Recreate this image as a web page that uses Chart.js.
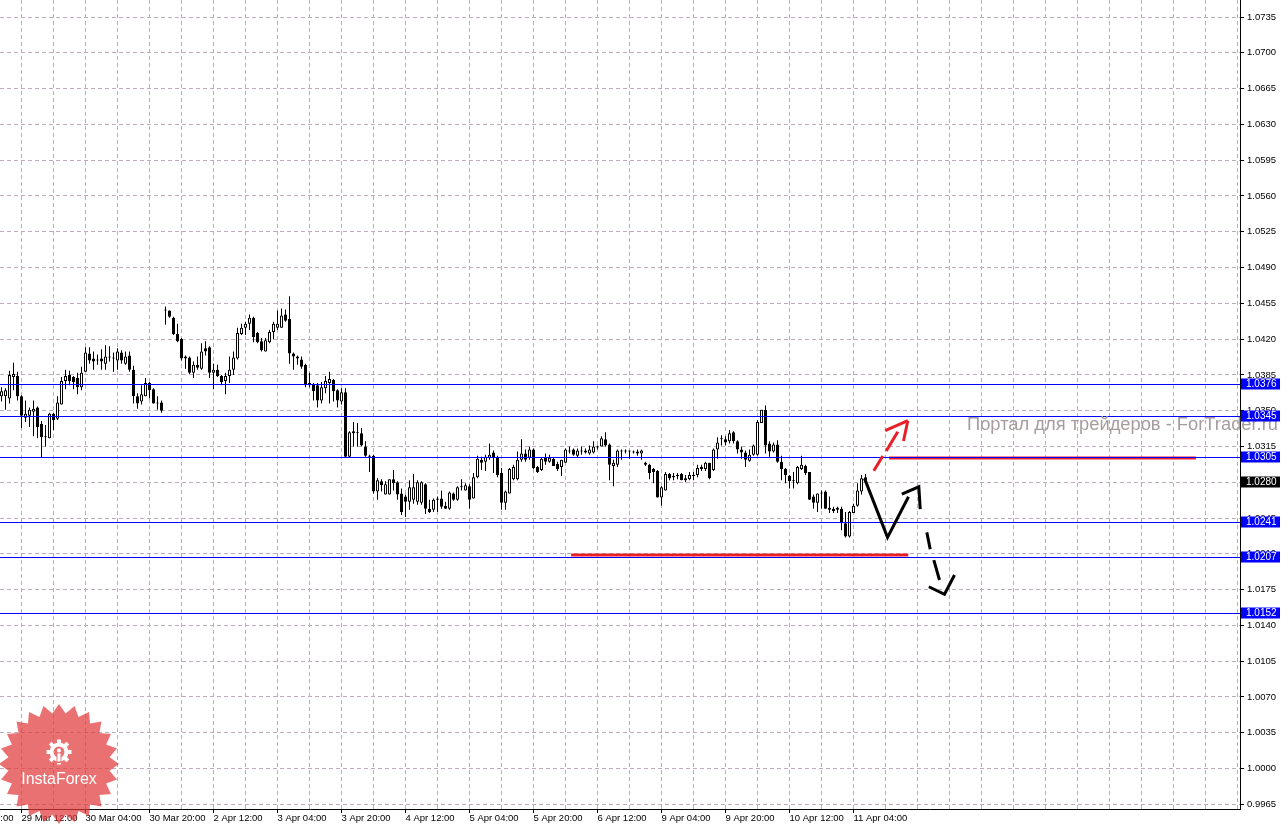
<!DOCTYPE html>
<html><head><meta charset="utf-8">
<script src="https://cdn.jsdelivr.net/npm/chart.js@4.4.1/dist/chart.umd.min.js"></script>
<style>html,body{margin:0;padding:0;background:#fff;overflow:hidden}</style>
</head><body>
<canvas id="c" width="1284" height="826" style="display:block;width:1284px;height:826px"></canvas>
<script>
// ---- Candle data (H1), index 0 = first visible bar ----
const opens=[1.0364,1.0364,1.0362,1.0383,1.0384,1.0364,1.0343,1.0345,1.0349,1.0353,
1.0337,1.0325,1.0323,1.0347,1.0342,1.0356,1.0379,1.0385,1.0383,1.0382,
1.0373,1.0388,1.0406,1.0401,1.0399,1.0401,1.0396,1.0402,1.0402,1.0399,
1.0407,1.0396,1.0404,1.0390,1.0364,1.0359,1.0364,1.0377,1.0371,1.0358,
1.0358,1.0449,1.0448,1.0441,1.0425,1.0420,1.0403,1.0402,1.0387,1.0395,
1.0391,1.0411,1.0412,1.0387,1.0390,1.0384,1.0379,1.0384,1.0390,1.0401,
1.0425,1.0431,1.0435,1.0441,1.0426,1.0418,1.0408,1.0417,1.0427,1.0431,
1.0431,1.0444,1.0440,1.0406,1.0403,1.0400,1.0395,1.0377,1.0376,1.0375,
1.0360,1.0372,1.0377,1.0380,1.0370,1.0359,1.0368,1.0305,1.0328,1.0328,
1.0328,1.0315,1.0305,1.0306,1.0271,1.0281,1.0268,1.0268,1.0283,1.0280,
1.0269,1.0266,1.0261,1.0263,1.0261,1.0260,1.0278,1.0254,1.0253,1.0263,
1.0264,1.0257,1.0254,1.0269,1.0263,1.0275,1.0272,1.0276,1.0264,1.0285,
1.0302,1.0300,1.0304,1.0309,1.0305,1.0289,1.0260,1.0269,1.0283,1.0283,
1.0302,1.0308,1.0304,1.0312,1.0295,1.0292,1.0304,1.0300,1.0303,1.0298,
1.0295,1.0299,1.0310,1.0312,1.0306,1.0311,1.0311,1.0308,1.0309,1.0315,
1.0315,1.0322,1.0317,1.0296,1.0297,1.0311,1.0310,1.0310,1.0309,1.0308,
1.0308,1.0299,1.0297,1.0293,1.0291,1.0265,1.0272,1.0288,1.0286,1.0286,
1.0288,1.0282,1.0283,1.0286,1.0287,1.0293,1.0293,1.0299,1.0292,1.0312,
1.0322,1.0322,1.0320,1.0329,1.0320,1.0312,1.0309,1.0301,1.0307,1.0307,
1.0338,1.0351,1.0318,1.0310,1.0317,1.0300,1.0293,1.0286,1.0282,1.0279,
1.0293,1.0296,1.0290,1.0266,1.0260,1.0269,1.0271,1.0255,1.0254,1.0253,
1.0254,1.0240,1.0227,1.0250,1.0257,1.0271,1.0285];
const highs=[1.0373,1.0372,1.0389,1.0397,1.0388,1.0365,1.0360,1.0353,1.0360,1.0354,
1.0340,1.0336,1.0348,1.0348,1.0364,1.0383,1.0390,1.0389,1.0384,1.0387,
1.0393,1.0412,1.0412,1.0408,1.0405,1.0410,1.0414,1.0413,1.0407,1.0411,
1.0409,1.0408,1.0408,1.0394,1.0367,1.0375,1.0382,1.0378,1.0372,1.0364,
1.0360,1.0452,1.0448,1.0442,1.0435,1.0421,1.0404,1.0403,1.0398,1.0403,
1.0416,1.0418,1.0413,1.0396,1.0395,1.0385,1.0387,1.0403,1.0408,1.0431,
1.0435,1.0437,1.0444,1.0442,1.0427,1.0421,1.0421,1.0429,1.0437,1.0448,
1.0450,1.0449,1.0462,1.0407,1.0404,1.0403,1.0396,1.0387,1.0377,1.0377,
1.0378,1.0384,1.0388,1.0381,1.0371,1.0372,1.0372,1.0330,1.0339,1.0338,
1.0333,1.0320,1.0307,1.0307,1.0284,1.0283,1.0281,1.0283,1.0292,1.0281,
1.0274,1.0268,1.0282,1.0288,1.0282,1.0281,1.0279,1.0263,1.0264,1.0266,
1.0272,1.0261,1.0271,1.0270,1.0276,1.0283,1.0279,1.0278,1.0289,1.0306,
1.0305,1.0307,1.0318,1.0311,1.0306,1.0294,1.0272,1.0294,1.0297,1.0310,
1.0322,1.0312,1.0315,1.0313,1.0296,1.0304,1.0308,1.0307,1.0304,1.0300,
1.0302,1.0313,1.0315,1.0313,1.0313,1.0315,1.0313,1.0316,1.0320,1.0316,
1.0325,1.0329,1.0318,1.0302,1.0312,1.0312,1.0312,1.0311,1.0311,1.0312,
1.0312,1.0300,1.0298,1.0294,1.0292,1.0276,1.0290,1.0289,1.0289,1.0289,
1.0289,1.0287,1.0290,1.0290,1.0297,1.0297,1.0300,1.0299,1.0313,1.0324,
1.0326,1.0325,1.0331,1.0330,1.0321,1.0315,1.0311,1.0312,1.0317,1.0341,
1.0351,1.0355,1.0320,1.0319,1.0321,1.0306,1.0294,1.0287,1.0290,1.0296,
1.0306,1.0297,1.0290,1.0268,1.0269,1.0272,1.0272,1.0266,1.0256,1.0256,
1.0256,1.0251,1.0252,1.0259,1.0279,1.0287,1.0288];
const lows=[1.0359,1.0351,1.0357,1.0370,1.0360,1.0333,1.0339,1.0334,1.0325,1.0323,
1.0304,1.0315,1.0323,1.0331,1.0341,1.0356,1.0371,1.0375,1.0371,1.0366,
1.0370,1.0388,1.0396,1.0390,1.0395,1.0390,1.0390,1.0398,1.0388,1.0390,
1.0396,1.0395,1.0388,1.0357,1.0352,1.0356,1.0364,1.0362,1.0357,1.0351,
1.0348,1.0434,1.0441,1.0424,1.0417,1.0399,1.0391,1.0386,1.0382,1.0390,
1.0390,1.0404,1.0382,1.0371,1.0383,1.0375,1.0366,1.0377,1.0385,1.0400,
1.0424,1.0424,1.0429,1.0417,1.0416,1.0408,1.0408,1.0416,1.0420,1.0429,
1.0431,1.0437,1.0396,1.0390,1.0395,1.0391,1.0373,1.0373,1.0360,1.0353,
1.0357,1.0367,1.0357,1.0359,1.0353,1.0356,1.0304,1.0304,1.0315,1.0315,
1.0315,1.0305,1.0290,1.0269,1.0263,1.0271,1.0268,1.0268,1.0272,1.0263,
1.0248,1.0246,1.0253,1.0259,1.0258,1.0258,1.0249,1.0250,1.0251,1.0251,
1.0254,1.0254,1.0253,1.0262,1.0262,1.0272,1.0272,1.0254,1.0264,1.0284,
1.0292,1.0291,1.0302,1.0289,1.0285,1.0253,1.0253,1.0269,1.0282,1.0282,
1.0300,1.0300,1.0302,1.0293,1.0289,1.0291,1.0297,1.0299,1.0296,1.0291,
1.0286,1.0299,1.0308,1.0306,1.0304,1.0307,1.0308,1.0307,1.0308,1.0312,
1.0315,1.0315,1.0282,1.0276,1.0295,1.0302,1.0308,1.0303,1.0308,1.0306,
1.0302,1.0296,1.0283,1.0279,1.0265,1.0257,1.0272,1.0282,1.0282,1.0283,
1.0282,1.0280,1.0282,1.0282,1.0285,1.0291,1.0291,1.0283,1.0291,1.0303,
1.0316,1.0316,1.0318,1.0318,1.0308,1.0303,1.0295,1.0300,1.0306,1.0306,
1.0338,1.0308,1.0305,1.0309,1.0299,1.0282,1.0279,1.0274,1.0274,1.0278,
1.0292,1.0287,1.0263,1.0254,1.0251,1.0254,1.0254,1.0250,1.0250,1.0250,
1.0233,1.0226,1.0226,1.0250,1.0256,1.0268,1.0281];
const closes=[1.0369,1.0370,1.0385,1.0386,1.0364,1.0345,1.0347,1.0351,1.0352,1.0334,
1.0324,1.0324,1.0347,1.0341,1.0358,1.0379,1.0384,1.0379,1.0378,1.0373,
1.0387,1.0407,1.0399,1.0398,1.0400,1.0398,1.0403,1.0402,1.0401,1.0408,
1.0399,1.0403,1.0390,1.0364,1.0357,1.0366,1.0377,1.0370,1.0357,1.0357,
1.0350,1.0448,1.0442,1.0425,1.0418,1.0401,1.0401,1.0387,1.0395,1.0392,
1.0408,1.0408,1.0387,1.0390,1.0384,1.0378,1.0384,1.0390,1.0402,1.0426,
1.0431,1.0435,1.0441,1.0422,1.0417,1.0409,1.0419,1.0427,1.0435,1.0435,
1.0443,1.0438,1.0406,1.0403,1.0401,1.0393,1.0375,1.0375,1.0369,1.0360,
1.0373,1.0379,1.0381,1.0369,1.0360,1.0368,1.0305,1.0329,1.0330,1.0328,
1.0316,1.0306,1.0305,1.0271,1.0282,1.0277,1.0278,1.0283,1.0279,1.0268,
1.0251,1.0261,1.0275,1.0275,1.0280,1.0280,1.0254,1.0251,1.0263,1.0264,
1.0256,1.0254,1.0270,1.0263,1.0275,1.0276,1.0277,1.0263,1.0285,1.0303,
1.0299,1.0305,1.0307,1.0304,1.0287,1.0260,1.0271,1.0293,1.0295,1.0302,
1.0308,1.0302,1.0312,1.0294,1.0290,1.0303,1.0300,1.0304,1.0296,1.0293,
1.0302,1.0312,1.0311,1.0307,1.0311,1.0310,1.0309,1.0312,1.0315,1.0314,
1.0323,1.0316,1.0297,1.0299,1.0311,1.0310,1.0311,1.0310,1.0309,1.0310,
1.0311,1.0297,1.0289,1.0290,1.0265,1.0275,1.0288,1.0284,1.0285,1.0286,
1.0282,1.0284,1.0287,1.0286,1.0294,1.0295,1.0299,1.0284,1.0312,1.0319,
1.0322,1.0319,1.0328,1.0320,1.0312,1.0309,1.0302,1.0307,1.0316,1.0339,
1.0351,1.0316,1.0310,1.0317,1.0300,1.0293,1.0287,1.0281,1.0281,1.0295,
1.0297,1.0289,1.0263,1.0260,1.0269,1.0270,1.0254,1.0253,1.0252,1.0255,
1.0240,1.0227,1.0251,1.0257,1.0272,1.0284,1.0282];

// ---- Axis labels ----
const timeLabels=['28 Mar 20:00','29 Mar 12:00','30 Mar 04:00','30 Mar 20:00','2 Apr 12:00','3 Apr 04:00','3 Apr 20:00','4 Apr 12:00','5 Apr 04:00','5 Apr 20:00','6 Apr 12:00','9 Apr 04:00','9 Apr 20:00','10 Apr 12:00','11 Apr 04:00'];
const timeLabelBars=[-11,5,21,37,53,69,85,101,117,133,149,165,181,197,213];
const priceTicks=[0.9965,1.0000,1.0035,1.0070,1.0105,1.0140,1.0175,1.0210,1.0245,1.0280,1.0315,1.0350,1.0385,1.0420,1.0455,1.0490,1.0525,1.0560,1.0595,1.0630,1.0665,1.0700,1.0735];

// ---- Horizontal levels & annotations (bar index, price) ----
const levels=[1.0376,1.0345,1.0305,1.0241,1.0207,1.0152];
const bidPrice=1.0280;
const redLineFrom=[142.4,221.9];
const redLineTo=[226.7,298.6];
const redLinePrice=[1.02088,1.03036];
const redArrowSegments=[
  [[218.08,1.02913],[220.33,1.03056]],
  [[221.18,1.03105],[224.08,1.03294]],
  [[220.93,1.03304],[226.58,1.03402]],
  [[225.5,1.03203],[226.58,1.03402]]
];
const blackZigzag=[[215.75,1.02838],[221.5,1.02261],[226.75,1.02658]];
const blackZigzagHead=[[225.08,1.02685],[229.33,1.02756],[229.68,1.02538]];
const blackDashSegments=[
  [[231.33,1.02310],[232.18,1.02144]],
  [[233.08,1.02039],[234.5,1.01844]]
];
const blackDashHead=[[231.83,1.01778],[235.75,1.01704],[238.25,1.01893]];

const GRID='rgb(188,172,188)';
const FONT='"Liberation Sans", Arial, sans-serif';
const WATERMARK='Портал для трейдеров - ForTrader.ru';
const gridTicks=[]; for(let v=-11; v<=309; v+=8) gridTicks.push(v);

const bodyData=opens.map((o,i)=>({x:i,y:[o,closes[i]]}));
const wickData=lows.map((l,i)=>({x:i,y:[l,highs[i]]}));

const overlay={
  id:'overlay',
  beforeDraw(chart){const c=chart.ctx;c.save();c.fillStyle='#fff';c.fillRect(0,0,chart.width,chart.height);c.restore();},
  afterDatasetsDraw(chart){
    const {ctx,chartArea:a}=chart; const X=chart.scales.x, Y=chart.scales.y;
    const P=pt=>[X.getPixelForValue(pt[0]),Y.getPixelForValue(pt[1])];
    ctx.save();
    ctx.beginPath();ctx.rect(a.left,a.top,a.right-a.left,a.bottom-a.top);ctx.clip();
    ctx.strokeStyle='rgb(232,30,40)';ctx.lineWidth=3;
    redLinePrice.forEach((p,k)=>{const yy=Y.getPixelForValue(p);ctx.beginPath();ctx.moveTo(X.getPixelForValue(redLineFrom[k]),yy);ctx.lineTo(X.getPixelForValue(redLineTo[k]),yy);ctx.stroke();});
    ctx.strokeStyle='#0000ff';ctx.lineWidth=1;
    levels.forEach(p=>{const yy=Math.round(Y.getPixelForValue(p))+0.5;ctx.beginPath();ctx.moveTo(a.left,yy);ctx.lineTo(a.right,yy);ctx.stroke();});
    ctx.strokeStyle='rgb(232,30,40)';ctx.lineWidth=3;ctx.lineCap='butt';
    redArrowSegments.forEach(s=>{const p1=P(s[0]),p2=P(s[1]);ctx.beginPath();ctx.moveTo(p1[0],p1[1]);ctx.lineTo(p2[0],p2[1]);ctx.stroke();});
    ctx.strokeStyle='#000';ctx.lineWidth=3;ctx.lineJoin='miter';
    const poly=pts=>{ctx.beginPath();pts.forEach((q,i)=>{const p=P(q);if(i)ctx.lineTo(p[0],p[1]);else ctx.moveTo(p[0],p[1]);});ctx.stroke();};
    poly(blackZigzag);poly(blackZigzagHead);
    blackDashSegments.forEach(s=>poly(s));poly(blackDashHead);
    ctx.restore();
    // watermark, fitted to span x 967..1278
    ctx.save();
    ctx.font='16px '+FONT;
    const w=ctx.measureText(WATERMARK).width;
    const fs=Math.min(20,16*311/w);
    ctx.font=fs.toFixed(2)+'px '+FONT;
    ctx.fillStyle='rgb(165,157,157)';ctx.textBaseline='alphabetic';ctx.textAlign='left';
    ctx.fillText(WATERMARK,967,430);
    ctx.restore();
  },
  afterDraw(chart){
    const {ctx,chartArea:a}=chart; const Y=chart.scales.y;
    ctx.save();
    ctx.font='10px '+FONT;ctx.textBaseline='middle';ctx.textAlign='left';
    const box=(p,bg)=>{const yy=Math.round(Y.getPixelForValue(p));ctx.fillStyle=bg;ctx.fillRect(a.right+1,yy-5.5,39,11);ctx.fillStyle='#fff';ctx.fillText(p.toFixed(4),a.right+6,yy+0.5);};
    levels.forEach(p=>box(p,'#0000ff'));
    box(bidPrice,'#000');
    const cx=59,cy=764,R=60,r=51,n=24;
    ctx.fillStyle='rgba(226,58,58,0.72)';
    ctx.beginPath();
    for(let k=0;k<2*n;k++){const ang=-Math.PI/2+k*Math.PI/n;const rad=k%2?r:R;ctx.lineTo(cx+rad*Math.cos(ang),cy+rad*Math.sin(ang));}
    ctx.closePath();ctx.fill();
    const gx=59,gy=752;
    ctx.fillStyle='#fff';
    ctx.beginPath();ctx.arc(gx,gy,9.5,0,Math.PI*2);ctx.fill();
    for(let k=0;k<8;k++){ctx.save();ctx.translate(gx,gy);ctx.rotate(k*Math.PI/4);ctx.fillRect(-2,-12.5,4,5);ctx.restore();}
    ctx.fillStyle='rgb(234,116,116)';
    ctx.beginPath();ctx.arc(gx,gy,5.5,0,Math.PI*2);ctx.fill();
    ctx.fillRect(gx-2.5,gy+3,5,8);
    ctx.fillStyle='#fff';
    ctx.beginPath();ctx.arc(gx,gy-1.5,2,0,Math.PI*2);ctx.fill();
    ctx.fillRect(gx-1.5,gy+1.5,3,8);
    ctx.font='16px '+FONT;ctx.textAlign='center';ctx.textBaseline='alphabetic';
    ctx.fillText('InstaForex',cx,784);
    ctx.restore();
  }
};

new Chart(document.getElementById('c'),{
  type:'bar',
  data:{datasets:[
    {label:'body',data:bodyData,grouped:false,barPercentage:1,categoryPercentage:1,maxBarThickness:3,
     borderWidth:1,borderColor:'#000',borderSkipped:false,inflateAmount:0,minBarLength:1,
     backgroundColor:c=>closes[c.dataIndex]>=opens[c.dataIndex]?'#fff':'#000',order:0},
    {label:'wick',data:wickData,grouped:false,barPercentage:1,categoryPercentage:1,maxBarThickness:1,
     borderWidth:0,inflateAmount:0,minBarLength:1,backgroundColor:'#000',order:1}
  ]},
  options:{
    responsive:false,animation:false,devicePixelRatio:1,
    layout:{padding:0,autoPadding:false},
    plugins:{legend:{display:false},tooltip:{enabled:false}},
    scales:{
      x:{type:'linear',min:-0.375,max:309.625,offset:false,
        afterBuildTicks:s=>{s.ticks=gridTicks.map(v=>({value:v}));},
        afterFit:s=>{s.height=17;s.paddingLeft=0;s.paddingRight=0;},
        grid:{color:GRID,lineWidth:1,offset:false,drawTicks:true,tickLength:4,
          tickColor:c=>(c.tick&&timeLabelBars.includes(c.tick.value))?'#000':'rgba(0,0,0,0)'},
        border:{display:true,color:'#000',width:1,dash:[4,3]},
        ticks:{autoSkip:false,maxRotation:0,minRotation:0,align:'start',padding:0,color:'#000',
          font:{family:FONT,size:9.5},
          callback:v=>{const k=timeLabelBars.indexOf(v);return k>=0?timeLabels[k]:'';}}
      },
      y:{type:'linear',position:'right',min:0.99604,max:1.07517,beginAtZero:false,
        afterBuildTicks:s=>{s.ticks=priceTicks.map(v=>({value:v}));},
        afterFit:s=>{s.width=44;s.paddingTop=0;s.paddingBottom=0;},
        grid:{color:GRID,lineWidth:1,drawTicks:true,tickLength:4,tickColor:'#000'},
        border:{display:true,color:'#000',width:1,dash:[4,3]},
        ticks:{padding:3,color:'#000',font:{family:FONT,size:9.5},callback:v=>Number(v).toFixed(4)}
      }
    }
  },
  plugins:[overlay]
});
</script>
</body></html>
